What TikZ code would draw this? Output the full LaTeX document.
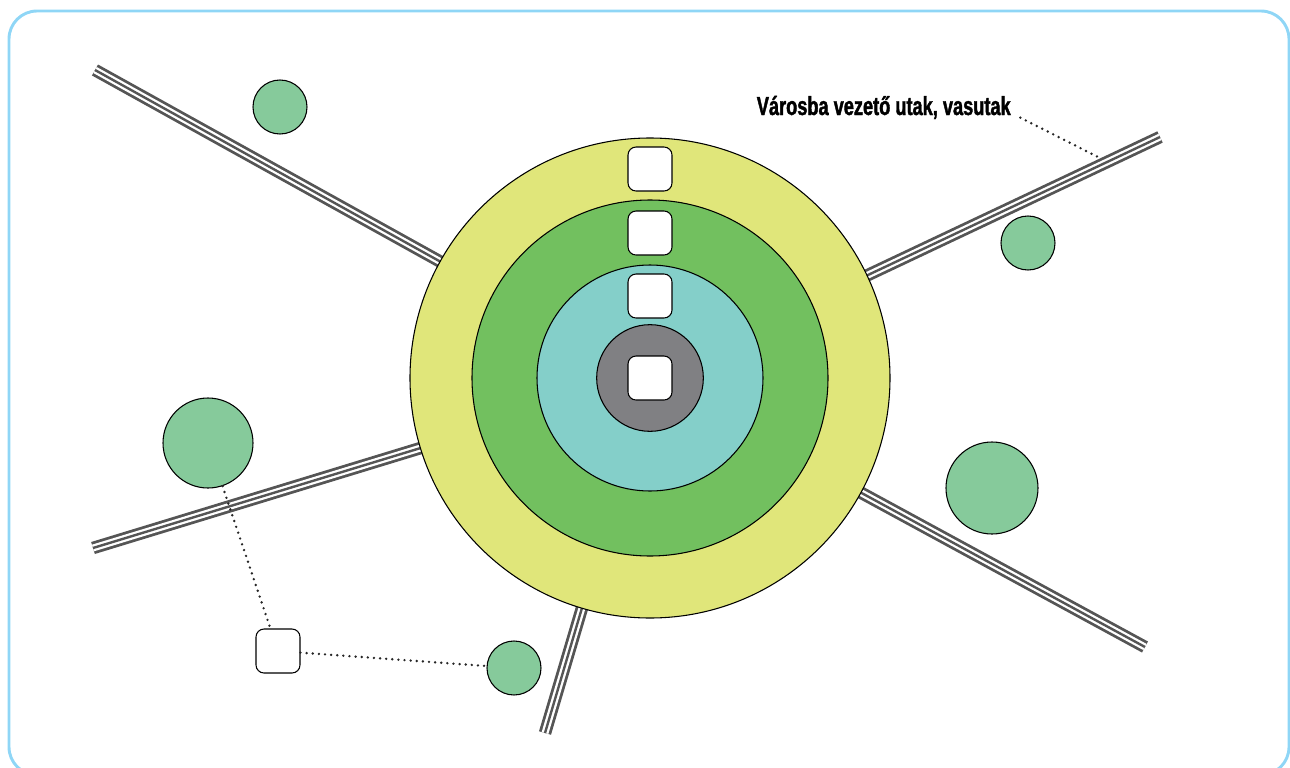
\documentclass[tikz,border=0pt]{standalone}
\usepackage{fontspec}
\usetikzlibrary{calc,positioning}
\newfontfamily\captionfont[FakeStretch=0.7, BoldFeatures={FakeBold=1.5}]{Liberation Sans}
\definecolor{Frame}{HTML}{8FD6F6}
\definecolor{Road}{HTML}{555555}
\definecolor{Outer}{HTML}{E0E67A}
\definecolor{Middle}{HTML}{72C05F}
\definecolor{Inner}{HTML}{84CFC9}
\definecolor{Core}{HTML}{808083}
\definecolor{Park}{HTML}{86CA9B}
\tikzset{
  ring/.style={circle, draw=black, line width=0.8pt, inner sep=0pt},
  park/.style={circle, draw=black, line width=0.8pt, fill=Park, inner sep=0pt},
  lot/.style={
    rounded corners=6pt, draw=black, line width=0.8pt, fill=white,
    minimum size=33pt, inner sep=0pt
  },
  road/.style={
    draw=Road, line width=9.4pt,
    postaction={draw=white, line width=5.2pt},
    postaction={draw=Road, line width=1.8pt}
  },
  pointer/.style={draw=black!85, line width=2pt, line cap=round,
    dash pattern=on 0pt off 4.6pt}
}

\begin{document}
\begin{tikzpicture}[x=0.75pt,y=-0.75pt]
    \useasboundingbox (0,0) rectangle (1290,768);
    \draw[Frame, line width=2.2pt, rounded corners=21pt] (9,11) rectangle (1289,775);

    % roads out of town
    \coordinate (c) at (650,378);
    \coordinate (r1) at (95,70);
    \coordinate (r2) at (1160,137);
    \coordinate (r3) at (93,548);
    \coordinate (r4) at (1145,647);
    \coordinate (r5) at (545,733);
    \foreach \r in {r1,r2,r3,r4,r5}
      \draw[road] (c) -- (\r);

    % zones
    \node[ring, fill=Outer, minimum size=360pt] (outer) at (c) {};
    \node[ring, fill=Middle, minimum size=267pt] (middle) at (c) {};
    \node[ring, fill=Inner, minimum size=169.5pt] (inner) at (c) {};
    \node[ring, fill=Core, minimum size=80pt] (core) at (c) {};

    \node[lot] (lot1) at (650,169) {};
    \node[lot] (lot2) at (650,233) {};
    \node[lot] (lot3) at (650,296) {};
    \node[lot] (lot4) at (c) {};
    \node[lot] (lot5) at (278,651) {};

    % green spots
    \node[park, minimum size=40.5pt] (p1) at (280,107) {};
    \node[park, minimum size=40.5pt] (p2) at (1028,243) {};
    \node[park, minimum size=67.5pt] (p3) at (208,443) {};
    \node[park, minimum size=69pt] (p4) at (992,488) {};
    \node[park, minimum size=40.5pt] (p5) at (514,668) {};

    \draw[pointer] (p3) -- (lot5);
    \draw[pointer] (lot5) -- (p5);

    \node[anchor=base east, inner sep=0pt,
      font=\captionfont\bfseries\fontsize{19.5}{22}\selectfont] (caption) at (1011,115)
      {Városba vezető utak, vasutak};
    \coordinate (hook) at (1098,157);
    \draw[pointer] ([xshift=7pt,yshift=-2pt]caption.base east) -- (hook);
  \end{tikzpicture}
\end{document}
